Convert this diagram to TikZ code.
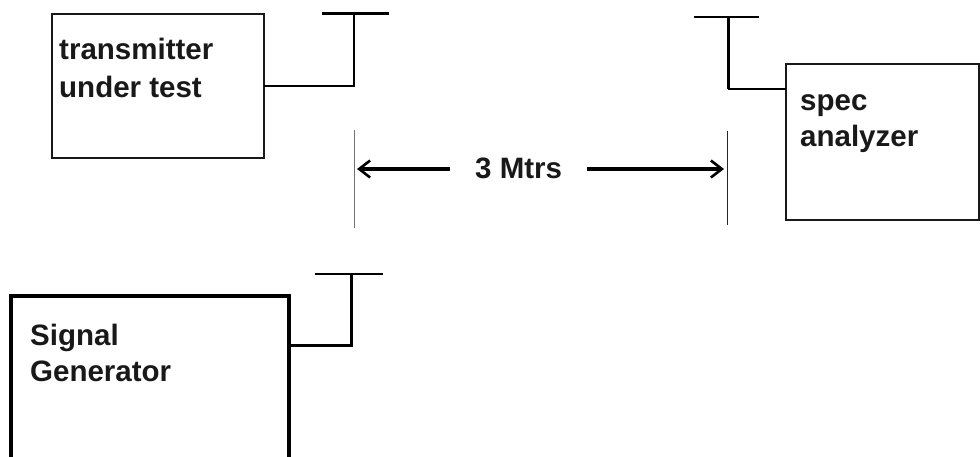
\documentclass[tikz,border=0pt]{standalone}
\usepackage{fontspec}
\setmainfont{Liberation Sans}
\usetikzlibrary{arrows.meta}
\tikzset{
  boxa/.style={draw=black!90,line width=1.8pt,fill=white,inner sep=0pt,outer sep=0pt,anchor=north west},
  wire/.style={draw=black,line width=2.6pt},
  thinwire/.style={draw=black,line width=1.5pt},
  guide/.style={draw=black!55,line width=1pt},
  measure/.style={draw=black,line width=3.2pt,-{Straight Barb[length=11pt,width=17pt,line width=2.6pt]}},
  boldlabel/.style={inner sep=0pt,anchor=base west,font=\fontsize{29.5}{36}\selectfont\bfseries,text=black!90},
}
\begin{document}
\begin{tikzpicture}[x=1pt,y=-1pt]
\useasboundingbox (0,0) rectangle (980,456);
\clip (0,0) rectangle (980,456);
% boxes
\node[boxa,minimum width=212pt,minimum height=144pt] (tx) at (52,14) {};
\node[boxa,minimum width=193pt,minimum height=156pt] (sa) at (786,64) {};
\node[boxa,draw=black,line width=3.4pt,minimum width=278pt,minimum height=190pt] (sg) at (11,296) {};
% labels
\node[boldlabel] (txa) at (59,59) {transmitter};
\node[boldlabel] (txb) at (59,97) {under test};
\node[boldlabel] (saa) at (800,110) {spec};
\node[boldlabel] (sab) at (800,146) {analyzer};
\node[boldlabel] (sga) at (30,345) {Signal};
\node[boldlabel] (sgb) at (30,381) {Generator};
\node[boldlabel] (dist) at (475,178) {3 Mtrs};
% antennas
\coordinate (tl) at (322,13); \coordinate (tr) at (389,13); \coordinate (tm) at (354,13); \coordinate (tk) at (354,86);
\draw[wire,line width=3pt] (tl) -- (tr);
\draw[wire,line width=2.2pt,line join=miter] (tx.east |- tk) -- (tk) -- (tm);
\coordinate (rl) at (694,17); \coordinate (rr) at (759,17); \coordinate (rm) at (728,17); \coordinate (rk) at (728,89);
\draw[wire] (rl) -- (rr);
\draw[wire,line width=3pt] (rm) -- (rk);
\draw[wire,line width=2pt] (rk) -- (sa.west |- rk);
\coordinate (sl) at (315,274); \coordinate (sr) at (383,274); \coordinate (sm) at (351,274); \coordinate (sk) at (351,345);
\draw[thinwire] (sl) -- (sr);
\draw[wire,line width=3pt,line join=miter] (sg.east |- sk) -- (sk) -- (sm);
% dimension
\coordinate (ga) at (354,130); \coordinate (gb) at (354,228);
\coordinate (gc) at (727,131); \coordinate (gd) at (727,225);
\draw[guide] (ga) -- (gb);
\draw[guide,draw=black!85] (gc) -- (gd);
\coordinate (la) at (450,169); \coordinate (lb) at (357,169);
\coordinate (ra) at (587,169); \coordinate (rb) at (724,169);
\draw[measure] (la) -- (lb);
\draw[measure] (ra) -- (rb);
\end{tikzpicture}
\end{document}
